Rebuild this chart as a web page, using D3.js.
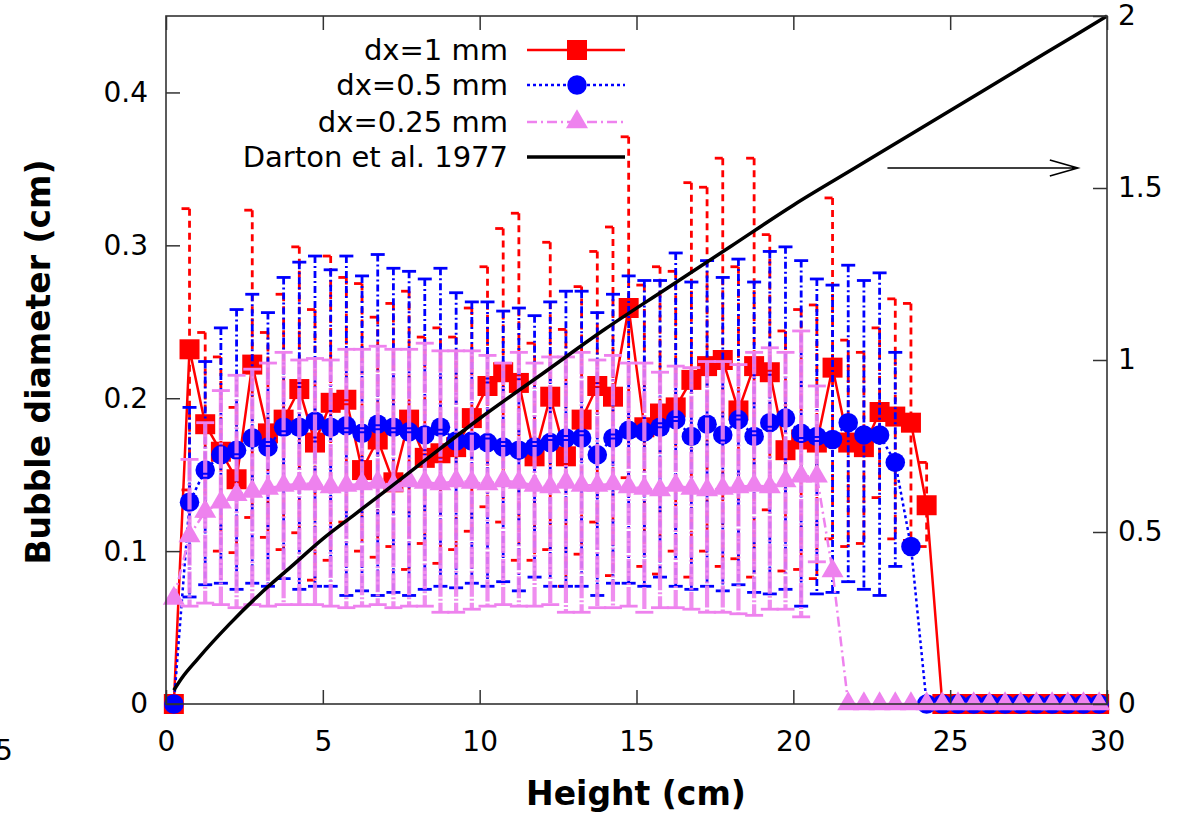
<!DOCTYPE html>
<html>
<head>
<meta charset="utf-8">
<script src="https://cdn.jsdelivr.net/npm/d3@7"></script>
<style>
body { margin: 0; background: #fff; }
svg { display: block; font-family: "DejaVu Sans", sans-serif; }
.tick text { font-size: 28px; fill: #000; }
.tick line { stroke: #333; stroke-width: 1.5; }
</style>
</head>
<body>
<div id="plot"></div>
<script>
// bin centres (cm)
var heights = [0.25, 0.75, 1.25, 1.75, 2.25, 2.75, 3.25, 3.75, 4.25, 4.75,
    5.25, 5.75, 6.25, 6.75, 7.25, 7.75, 8.25, 8.75, 9.25, 9.75,
    10.25, 10.75, 11.25, 11.75, 12.25, 12.75, 13.25, 13.75, 14.25, 14.75,
    15.25, 15.75, 16.25, 16.75, 17.25, 17.75, 18.25, 18.75, 19.25, 19.75,
    20.25, 20.75, 21.25, 21.75, 22.25, 22.75, 23.25, 23.75, 24.25, 24.75,
    25.25, 25.75, 26.25, 26.75, 27.25, 27.75, 28.25, 28.75, 29.25, 29.75];

// dx = 1 mm
var d1 = [0, 0.232, 0.183, 0.165, 0.147, 0.222, 0.177, 0.186, 0.206, 0.171,
    0.197, 0.199, 0.153, 0.173, 0.145, 0.186, 0.161, 0.164, 0.168, 0.187,
    0.208, 0.217, 0.210, 0.162, 0.201, 0.162, 0.186, 0.208, 0.201, 0.259,
    0.181, 0.190, 0.194, 0.212, 0.221, 0.225, 0.192, 0.221, 0.217, 0.166,
    0.173, 0.171, 0.220, 0.171, 0.168, 0.191, 0.188, 0.184, 0.130, 0,
    0, 0, 0, 0, 0, 0, 0, 0, 0, 0];
var d1Lo = [null, 0.140, 0.123, 0.100, 0.099, 0.122, 0.109, 0.101, 0.112, 0.081,
    0.094, 0.119, 0.100, 0.096, 0.103, 0.088, 0.105, 0.092, 0.101, 0.113,
    0.129, 0.119, 0.094, 0.094, 0.101, 0.077, 0.098, 0.119, 0.084, 0.148,
    0.090, 0.085, 0.100, 0.083, 0.100, 0.090, 0.095, 0.083, 0.127, 0.087,
    0.088, 0.082, 0.108, 0.103, 0.105, 0.135, 0.108, 0.107, 0.103];
var d1Hi = [null, 0.324, 0.243, 0.227, 0.194, 0.323, 0.243, 0.268, 0.299, 0.258,
    0.293, 0.279, 0.275, 0.253, 0.262, 0.270, 0.240, 0.246, 0.240, 0.259,
    0.286, 0.311, 0.321, 0.236, 0.302, 0.245, 0.273, 0.296, 0.312, 0.371,
    0.274, 0.286, 0.283, 0.341, 0.338, 0.357, 0.286, 0.357, 0.307, 0.244,
    0.258, 0.261, 0.331, 0.238, 0.230, 0.246, 0.265, 0.262, 0.158];

// dx = 0.5 mm
var d05 = [0, 0.132, 0.153, 0.163, 0.166, 0.174, 0.168, 0.181, 0.181, 0.185,
    0.181, 0.182, 0.177, 0.183, 0.181, 0.178, 0.176, 0.181, 0.172, 0.172,
    0.171, 0.168, 0.166, 0.168, 0.171, 0.174, 0.174, 0.163, 0.174, 0.179,
    0.178, 0.181, 0.186, 0.175, 0.183, 0.176, 0.186, 0.175, 0.184, 0.187,
    0.177, 0.175, 0.173, 0.184, 0.176, 0.176, 0.158, 0.103, 0, 0,
    0, 0, 0, 0, 0, 0, 0, 0, 0, 0];
var d05Lo = [null, 0.070, 0.078, 0.079, 0.075, 0.079, 0.077, 0.082, 0.075, 0.077,
    0.077, 0.071, 0.074, 0.071, 0.073, 0.071, 0.075, 0.077, 0.076, 0.079,
    0.077, 0.080, 0.074, 0.083, 0.077, 0.077, 0.077, 0.071, 0.079, 0.079,
    0.077, 0.083, 0.077, 0.075, 0.077, 0.074, 0.078, 0.073, 0.072, 0.075,
    0.064, 0.072, 0.073, 0.080, 0.075, 0.071, 0.090];
var d05Hi = [null, 0.194, 0.224, 0.246, 0.258, 0.268, 0.256, 0.279, 0.289, 0.293,
    0.284, 0.293, 0.280, 0.294, 0.285, 0.283, 0.278, 0.285, 0.269, 0.263,
    0.263, 0.257, 0.259, 0.254, 0.263, 0.270, 0.270, 0.256, 0.268, 0.280,
    0.277, 0.277, 0.295, 0.276, 0.290, 0.279, 0.291, 0.276, 0.296, 0.299,
    0.290, 0.278, 0.274, 0.287, 0.277, 0.282, 0.230];

// dx = 0.25 mm
var d025 = [0.069, 0.110, 0.126, 0.132, 0.137, 0.139, 0.141, 0.143, 0.144, 0.144,
    0.142, 0.143, 0.144, 0.145, 0.143, 0.146, 0.145, 0.144, 0.146, 0.145,
    0.144, 0.146, 0.145, 0.143, 0.142, 0.145, 0.143, 0.143, 0.144, 0.142,
    0.141, 0.140, 0.143, 0.141, 0.140, 0.141, 0.142, 0.143, 0.142, 0.146,
    0.149, 0.149, 0.087, 0, 0, 0, 0, 0, 0, 0,
    0, 0, 0, 0, 0, 0, 0, 0, 0, 0];
var d025Lo = [null, 0.064, 0.066, 0.065, 0.063, 0.065, 0.064, 0.065, 0.065, 0.065,
    0.064, 0.063, 0.064, 0.065, 0.063, 0.064, 0.064, 0.060, 0.060, 0.062,
    0.064, 0.065, 0.064, 0.064, 0.065, 0.060, 0.060, 0.063, 0.063, 0.064,
    0.060, 0.063, 0.063, 0.062, 0.060, 0.060, 0.059, 0.058, 0.062, 0.062,
    0.057, 0.093];
var d025Hi = [null, 0.160, 0.184, 0.205, 0.215, 0.219, 0.223, 0.230, 0.225, 0.226,
    0.225, 0.232, 0.232, 0.234, 0.232, 0.232, 0.236, 0.231, 0.231, 0.231,
    0.228, 0.223, 0.230, 0.223, 0.227, 0.227, 0.230, 0.225, 0.228, 0.223,
    0.223, 0.217, 0.221, 0.220, 0.224, 0.224, 0.222, 0.230, 0.233, 0.230,
    0.244, 0.208];

// Darton et al. 1977 correlation (right axis)
var dartonH = [0.25, 0.5, 1, 2, 3, 4, 5, 6, 8, 10, 12, 14, 16, 18, 20, 22, 24, 26, 28, 30];
var dartonD = [0.04, 0.075, 0.13, 0.23, 0.32, 0.40, 0.48, 0.55, 0.69, 0.83,
    0.96, 1.09, 1.21, 1.33, 1.45, 1.56, 1.67, 1.78, 1.89, 2.0];

var xTicks = [0, 5, 10, 15, 20, 25, 30];
var yTicks = [0, 0.1, 0.2, 0.3, 0.4];
var y2Ticks = [0, 0.5, 1, 1.5, 2];
var legendLabels = ["dx=1 mm", "dx=0.5 mm", "dx=0.25 mm", "Darton et al. 1977"];

var W = 1204, H = 814;
var x = d3.scaleLinear().domain([0, 30]).range([166, 1107]);
var y = d3.scaleLinear().domain([0, 0.45]).range([704, 16]);
var y2 = d3.scaleLinear().domain([0, 2]).range([704, 16]);

var svg = d3.select("#plot").append("svg")
    .attr("width", W)
    .attr("height", H);

var series = [
    { vals: d1, lo: d1Lo, hi: d1Hi, color: "#ff0000", line: null, bar: "7,5",
      symbol: d3.symbolSquare, size: 400, capL: 8, capR: 0, barW: 2.8, op: 1 },
    { vals: d05, lo: d05Lo, hi: d05Hi, color: "#0000ff", line: "3,3", bar: "7,3,2,3",
      symbol: d3.symbolCircle, size: 300, capL: 7, capR: 7, barW: 2.8, op: 1 },
    { vals: d025, lo: d025Lo, hi: d025Hi, color: "#ee82ee", line: "10,4,2,4", bar: "22,2,2,2",
      symbol: d3.symbolTriangle, size: 210, capL: 9, capR: 9, barW: 4.2, op: 0.9 }
];

series.forEach(function (s) {
    var pts = heights.map(function (h, i) {
        return { x: h, v: s.vals[i], lo: s.lo[i], hi: s.hi[i] };
    });
    var bars = pts.filter(function (d) { return d.lo != null && d.hi != null; });
    var g = svg.append("g");

    g.selectAll("line.bar").data(bars).enter().append("line")
        .attr("x1", function (d) { return x(d.x); })
        .attr("x2", function (d) { return x(d.x); })
        .attr("y1", function (d) { return y(d.hi); })
        .attr("y2", function (d) { return y(d.lo); })
        .style("stroke", s.color)
        .style("stroke-width", s.barW)
        .style("stroke-dasharray", s.bar)
        .style("opacity", s.op);

    ["hi", "lo"].forEach(function (k) {
        g.selectAll("line.cap" + k).data(bars).enter().append("line")
            .attr("x1", function (d) { return x(d.x) - s.capL; })
            .attr("x2", function (d) { return x(d.x) + s.capR; })
            .attr("y1", function (d) { return y(d[k]); })
            .attr("y2", function (d) { return y(d[k]); })
            .style("stroke", s.color)
            .style("stroke-width", 2.8);
    });

    g.append("path")
        .datum(pts)
        .attr("d", d3.line().x(function (d) { return x(d.x); }).y(function (d) { return y(d.v); }))
        .style("fill", "none")
        .style("stroke", s.color)
        .style("stroke-width", 2.5)
        .style("stroke-dasharray", s.line);

    g.selectAll("path.pt").data(pts).enter().append("path")
        .attr("d", d3.symbol().type(s.symbol).size(s.size))
        .attr("transform", function (d) { return "translate(" + x(d.x) + "," + y(d.v) + ")"; })
        .style("fill", s.color);
});

// Darton curve
svg.append("path")
    .datum(dartonH.map(function (h, i) { return [h, dartonD[i]]; }))
    .attr("d", d3.line().curve(d3.curveMonotoneX)
        .x(function (d) { return x(d[0]); })
        .y(function (d) { return y2(d[1]); }))
    .style("fill", "none")
    .style("stroke", "#000")
    .style("stroke-width", 3.5);

// arrow pointing at the right axis
var ax1 = x(23), ax2 = x(29.07), ay = y2(1.558);
svg.append("path")
    .attr("d", "M" + ax1 + "," + ay + "H" + ax2 + "M" + (ax2 - 28) + "," + (ay - 8) + "L" + ax2 + "," + ay + "L" + (ax2 - 28) + "," + (ay + 8))
    .style("fill", "none")
    .style("stroke", "#000")
    .style("stroke-width", 1.6);

// axes
svg.append("g")
    .attr("transform", "translate(0,704)")
    .call(d3.axisBottom(x).tickValues(xTicks).tickSize(-14).tickPadding(27));
svg.append("g")
    .attr("transform", "translate(0,16)")
    .call(d3.axisTop(x).tickValues(xTicks).tickSize(-14).tickFormat(""));
svg.append("g")
    .attr("transform", "translate(166,0)")
    .call(d3.axisLeft(y).tickValues(yTicks).tickSize(-14).tickPadding(18)
        .tickFormat(function (d) { return d === 0 ? "0" : d3.format(".1f")(d); }));
svg.append("g")
    .attr("transform", "translate(1107,0)")
    .call(d3.axisRight(y2).tickValues(y2Ticks).tickSize(-14).tickPadding(11)
        .tickFormat(function (d) { return String(d); }));
svg.selectAll(".domain").remove();
svg.selectAll(".tick text").style("font-family", "DejaVu Sans");

svg.append("rect")
    .attr("x", 166).attr("y", 16)
    .attr("width", 1107 - 166).attr("height", 704 - 16)
    .style("fill", "none")
    .style("stroke", "#333")
    .style("stroke-width", 1.6);

// axis titles
svg.append("text")
    .attr("x", 636).attr("y", 805)
    .attr("text-anchor", "middle")
    .style("font-size", "33px").style("font-weight", "bold")
    .text("Height (cm)");
svg.append("text")
    .attr("transform", "translate(50,362) rotate(-90)")
    .attr("text-anchor", "middle")
    .style("font-size", "33px").style("font-weight", "bold")
    .text("Bubble diameter (cm)");

// stray clipped label at the left edge, as in the source image
svg.append("text")
    .attr("x", -5).attr("y", 760)
    .style("font-size", "28px")
    .text("5");

// legend
var legY = [50, 85, 122, 157];
var legStyle = [
    { color: "#ff0000", dash: null, symbol: d3.symbolSquare, size: 400, w: 2.5 },
    { color: "#0000ff", dash: "3,3", symbol: d3.symbolCircle, size: 300, w: 2.5 },
    { color: "#ee82ee", dash: "10,4,2,4", symbol: d3.symbolTriangle, size: 210, w: 2.5 },
    { color: "#000", dash: null, symbol: null, size: 0, w: 3.5 }
];
var leg = svg.append("g");
legendLabels.forEach(function (lab, i) {
    var st = legStyle[i];
    leg.append("text")
        .attr("x", 508).attr("y", legY[i])
        .attr("dy", "0.35em")
        .attr("text-anchor", "end")
        .style("font-size", "29px")
        .text(lab);
    leg.append("line")
        .attr("x1", 527).attr("x2", 625)
        .attr("y1", legY[i]).attr("y2", legY[i])
        .style("stroke", st.color)
        .style("stroke-width", st.w)
        .style("stroke-dasharray", st.dash);
    if (st.symbol) {
        leg.append("path")
            .attr("d", d3.symbol().type(st.symbol).size(st.size))
            .attr("transform", "translate(577," + legY[i] + ")")
            .style("fill", st.color);
    }
});
</script>
</body>
</html>
